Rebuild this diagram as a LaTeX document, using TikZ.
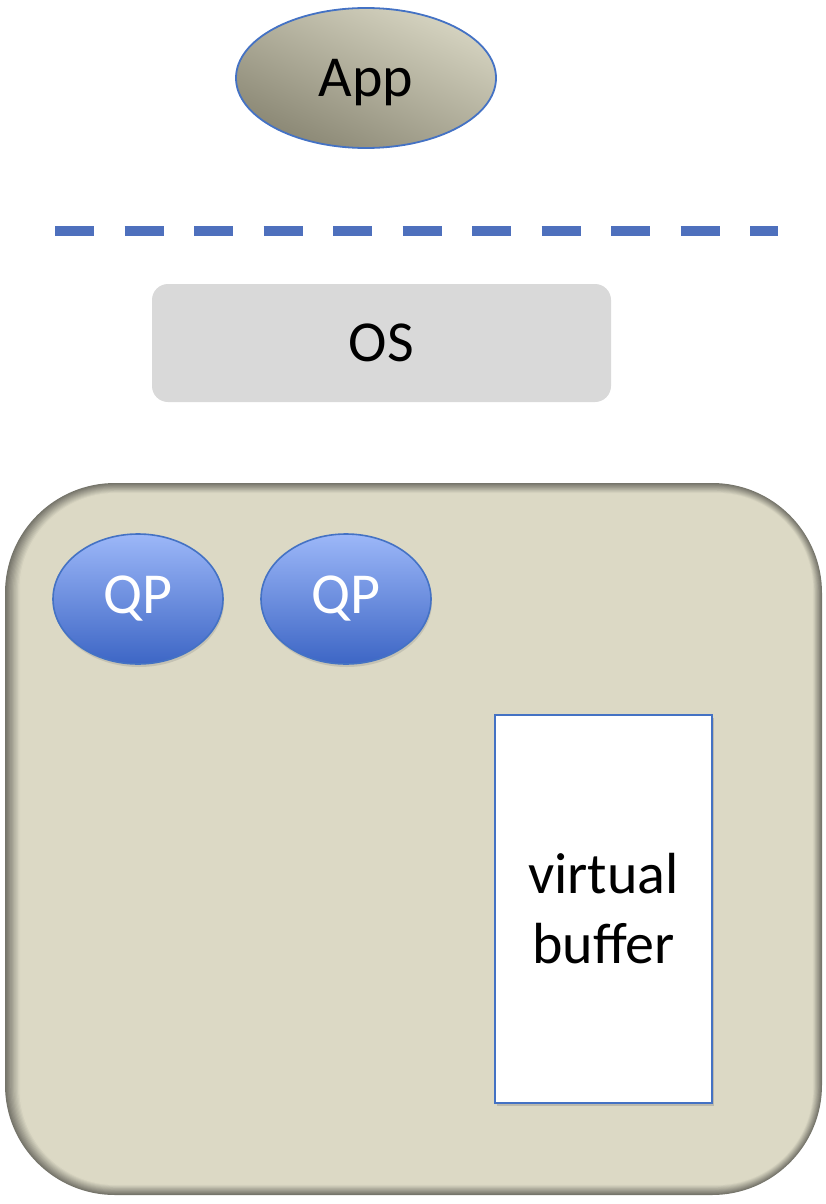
\documentclass[tikz,border=0pt]{standalone}
\usepackage{fontspec}
\setmainfont{Carlito}
\usepackage{tikz}
\usetikzlibrary{shapes.geometric}
\usetikzlibrary{shadows}
\definecolor{edgeBlue}{HTML}{4472C4}
\definecolor{sepBlue}{HTML}{4E70BD}
\definecolor{appLight}{HTML}{D6D4C1}
\definecolor{appDark}{HTML}{8A8774}
\definecolor{qpLight}{HTML}{9CB7F8}
\definecolor{qpDark}{HTML}{3D66C5}
\definecolor{osGray}{HTML}{D9D9D9}
\definecolor{hostFill}{HTML}{DCD9C5}
\definecolor{hostEdge}{HTML}{75746A}
\tikzset{
  bigText/.style={%
    font=\fontsize{58}{70}\selectfont,
  },
  appNode/.style={%
    ellipse, draw=edgeBlue, line width=1.8pt, inner sep=0pt,
    minimum width=260pt, minimum height=140pt, text depth=0pt,
    top color=appLight, bottom color=appDark, shading angle=-25,
    bigText,
  },
  qpNode/.style={%
    ellipse, draw=edgeBlue, line width=1.6pt, inner sep=0pt,
    minimum width=170pt, minimum height=130pt,
    top color=qpLight, bottom color=qpDark,
    drop shadow={shadow xshift=1pt, shadow yshift=-3pt, opacity=0.25},
    text=white, bigText,
  },
  osNode/.style={%
    rectangle, rounded corners=16pt, fill=osGray, inner sep=0pt,
    minimum width=459pt, minimum height=118pt,
    bigText,
  },
  bufferNode/.style={%
    rectangle, draw=edgeBlue, line width=1.8pt, fill=white, inner sep=0pt,
    minimum width=217pt, minimum height=388pt, align=center,
    drop shadow={shadow xshift=2pt, shadow yshift=-3pt, opacity=0.35},
    bigText,
  },
  sepLine/.style={%
    draw=sepBlue, line width=10pt, dash pattern=on 39pt off 30.5pt,
  }
}

\begin{document}
\begin{tikzpicture}[x=1pt,y=-1pt]
        \useasboundingbox (0,0) rectangle (826,1204);
        % host box with its inner shadow
        \foreach \k in {0,...,12}
        {
          \pgfmathsetmacro{\pct}{min(100,\k*9)}
          \fill[hostFill!\pct!hostEdge, rounded corners={110pt-\k*1.2pt}]
            ({5+\k*1.3},{483+\k*0.9}) rectangle ({822-\k*0.8},{1195-\k*0.9});
        }
        \node[appNode] (app) at (366,78) {App};
        \coordinate (sepL) at (55,231);
        \coordinate (sepR) at (778,231);
        \draw[sepLine] (sepL) -- (sepR);
        \node[osNode] (os) at (381.5,343) {OS};
        \node[qpNode] (qp1) at (138,599) {QP};
        \node[qpNode] (qp2) at (346,599) {QP};
        \node[bufferNode] (buffer) at (603.5,909) {virtual\\buffer};
      \end{tikzpicture}
\end{document}
